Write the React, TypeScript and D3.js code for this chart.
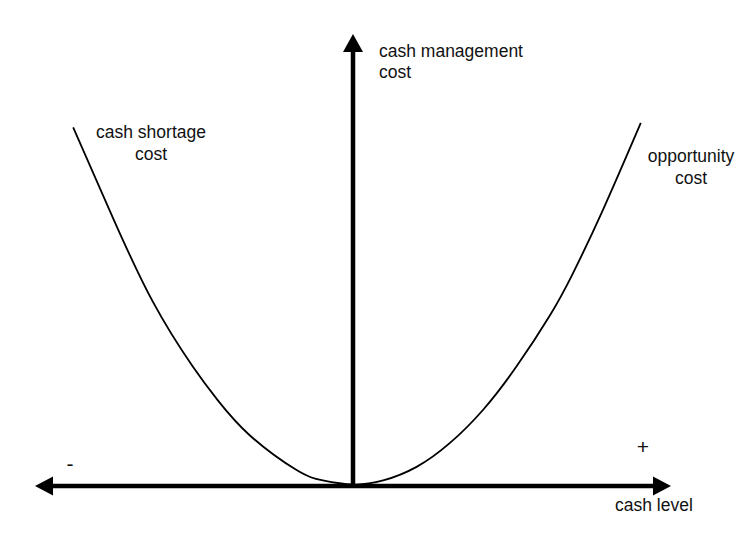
import * as d3 from 'd3';

const WIDTH = 752;
const HEIGHT = 555;

// cash level (x) and total cash management cost (y)
const cashLevel = [-8.8, -7.55, -6.3, -5.05, -4.25, -3.25, -1.8, -0.95, 0, 0.95, 2.0, 3.05, 4.1, 5.15, 6.2, 6.9, 7.85, 9.05];
const cost = [79, 59, 40.5, 26.2, 18.6, 10.9, 3.3, 0.9, 0, 0.9, 3.9, 9.2, 16.6, 26.2, 37.5, 46.5, 60.6, 80];

const xDomain = [-10, 10];
const yDomain = [0, 100];

const yTitle = ['cash management', 'cost'];
const xTitle = 'cash level';
const leftLabel = ['cash shortage', 'cost'];
const rightLabel = ['opportunity', 'cost'];

const FONT = 'Liberation Sans, Arial, Helvetica, sans-serif';

export default function App() {
  const xScale = d3.scaleLinear().domain(xDomain).range([35, 671]);
  const yScale = d3.scaleLinear().domain(yDomain).range([486, 34]);

  const points = cashLevel.map((x, i) => [x, cost[i]] as [number, number]);
  const lineBuilder = d3
    .line<[number, number]>()
    .x((d) => xScale(d[0]))
    .y((d) => yScale(d[1]) - 1.5)
    .curve(d3.curveNatural);

  const x0 = xScale(0);
  const y0 = yScale(0);
  const xl = xScale(xDomain[0]);
  const xr = xScale(xDomain[1]);
  const yt = yScale(yDomain[1]);
  const head = 18;
  const half = 9.5;

  return (
    <svg width={WIDTH} height={HEIGHT} style={{ position: 'absolute', left: 0, top: 0 }}>
      <rect width={WIDTH} height={HEIGHT} fill="#fff" />

      {/* cost curve */}
      <path d={lineBuilder(points) || ''} fill="none" stroke="#000" strokeWidth={1.8} />

      {/* horizontal axis */}
      <line x1={xl + head - 1} x2={xr - head + 1} y1={y0} y2={y0} stroke="#000" strokeWidth={4.5} />
      <path d={`M${xl},${y0} L${xl + head},${y0 - half} L${xl + head},${y0 + half} Z`} fill="#000" />
      <path d={`M${xr},${y0} L${xr - head},${y0 - half} L${xr - head},${y0 + half} Z`} fill="#000" />

      {/* vertical axis */}
      <line x1={x0} x2={x0} y1={y0} y2={yt + head - 1} stroke="#000" strokeWidth={4.5} />
      <path d={`M${x0},${yt} L${x0 - half - 0.5},${yt + head} L${x0 + half + 0.5},${yt + head} Z`} fill="#000" />

      <g fontFamily={FONT} fontSize={17.5} fill="#111">
        {yTitle.map((t, i) => (
          <text key={t} x={379} y={57 + i * 21}>{t}</text>
        ))}
        <text x={615} y={511}>{xTitle}</text>
        {leftLabel.map((t, i) => (
          <text key={t} x={151} y={138 + i * 22} textAnchor="middle">{t}</text>
        ))}
        {rightLabel.map((t, i) => (
          <text key={t} x={691} y={162 + i * 22} textAnchor="middle">{t}</text>
        ))}
        <text x={70} y={471} fontSize={21} textAnchor="middle">-</text>
        <text x={643} y={454} fontSize={21} textAnchor="middle">+</text>
      </g>
    </svg>
  );
}
